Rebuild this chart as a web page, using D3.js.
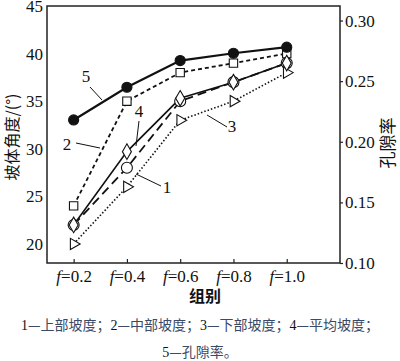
<!DOCTYPE html>
<html>
<head>
<meta charset="utf-8">
<script src="https://cdn.jsdelivr.net/npm/d3@7"></script>
<style>
  body { margin: 0; background: #fff; }
  svg text { font-family: "Liberation Serif", "Noto Sans CJK SC", serif; }
  .cjk { font-family: "Noto Sans CJK SC", sans-serif; }
</style>
</head>
<body>
<div id="chart"></div>
<script>
// groups (f values)
var groups = [0.2, 0.4, 0.6, 0.8, 1.0];
// slope angles (deg), left axis
var upperSlope = [22, 28, 35, 37, 39];      // 1
var middleSlope = [24, 35, 38, 39, 40];     // 2
var lowerSlope = [20, 26, 33, 35, 38];      // 3
var meanSlope = [22, 29.7, 35.3, 37, 39];   // 4
// porosity, right axis
var porosity = [0.218, 0.245, 0.267, 0.273, 0.278]; // 5
var leftTicks = [20, 25, 30, 35, 40, 45];
var rightTicks = [0.10, 0.15, 0.20, 0.25, 0.30];

var width = 400, height = 361;
var margin = { top: 6, right: 60, bottom: 98, left: 47 };
var w = width - margin.left - margin.right;
var h = height - margin.top - margin.bottom;

var svg = d3.select('#chart').append('svg')
    .attr('width', width)
    .attr('height', height);
var g = svg.append('g')
    .attr('transform', 'translate(' + margin.left + ',' + margin.top + ')');

var x = d3.scaleLinear().domain([0.1, 1.2]).range([0, w]);
var yL = d3.scaleLinear().domain([18, 45]).range([h, 0]);
var yR = d3.scaleLinear().domain([0.10, 0.312]).range([h, 0]);

// frame
g.append('rect')
    .attr('width', w).attr('height', h)
    .attr('fill', 'none').attr('stroke', '#222').attr('stroke-width', 1.5);

// left axis
var leftAxis = g.append('g')
    .call(d3.axisLeft(yL).tickValues(leftTicks).tickSize(0).tickPadding(4));
leftAxis.select('.domain').remove();
leftAxis.selectAll('text').attr('font-size', '17px').attr('fill', '#111')
    .attr('font-family', 'Liberation Serif');

// right axis
var rightAxis = g.append('g')
    .attr('transform', 'translate(' + w + ',0)')
    .call(d3.axisRight(yR).tickValues(rightTicks).tickSize(3).tickPadding(2)
        .tickFormat(d3.format('.2f')));
rightAxis.select('.domain').remove();
rightAxis.selectAll('line').attr('stroke', '#222').attr('stroke-width', 1.2);
rightAxis.selectAll('text').attr('font-size', '17px').attr('fill', '#111')
    .attr('font-family', 'Liberation Serif');

// bottom axis, ticks point inward
var bottomAxis = g.append('g')
    .attr('transform', 'translate(0,' + h + ')')
    .call(d3.axisBottom(x).tickValues(groups).tickSize(-4).tickFormat(''));
bottomAxis.select('.domain').remove();
bottomAxis.selectAll('line').attr('stroke', '#222').attr('stroke-width', 1.2);
bottomAxis.selectAll('.tick').append('text')
    .attr('y', 19)
    .attr('text-anchor', 'middle')
    .attr('font-size', '17px')
    .attr('fill', '#111')
    .each(function (d) {
        var t = d3.select(this);
        t.append('tspan').attr('font-style', 'italic').text('f');
        t.append('tspan').text('=' + d.toFixed(1));
    });

// axis titles
g.append('text')
    .attr('class', 'cjk')
    .attr('transform', 'translate(' + (12 - margin.left) + ',' + 131 + ') rotate(-90)')
    .attr('text-anchor', 'middle')
    .attr('dy', '0.35em')
    .attr('font-size', '16px')
    .attr('fill', '#111')
    .text('坡体角度/(°)');
g.append('text')
    .attr('class', 'cjk')
    .attr('transform', 'translate(' + (w + 48) + ',' + 137 + ') rotate(-90)')
    .attr('text-anchor', 'middle')
    .attr('dy', '0.35em')
    .attr('font-size', '17px')
    .attr('fill', '#111')
    .text('孔隙率');
g.append('text')
    .attr('class', 'cjk')
    .attr('x', 205 - margin.left)
    .attr('y', 302 - margin.top)
    .attr('text-anchor', 'middle')
    .attr('font-size', '16px')
    .attr('font-weight', 'bold')
    .attr('fill', '#111')
    .text('组别');

// series
var series = [
    { values: upperSlope, y: yL, dash: '9,5', width: 1.8, marker: 'circle' },
    { values: middleSlope, y: yL, dash: '4,3', width: 1.8, marker: 'square' },
    { values: lowerSlope, y: yL, dash: '1.5,2', width: 1.6, marker: 'triangle' },
    { values: meanSlope, y: yL, dash: null, width: 1.6, marker: 'diamond' },
    { values: porosity, y: yR, dash: null, width: 2.2, marker: 'dot' }
];

var symbolFor = {
    circle: d3.symbol().type(d3.symbolCircle).size(95),
    square: d3.symbol().type(d3.symbolSquare).size(70),
    diamond: d3.symbol().type(d3.symbolDiamond).size(70),
    dot: d3.symbol().type(d3.symbolCircle).size(80)
};

series.forEach(function (s) {
    var pts = groups.map(function (f, i) { return [x(f), s.y(s.values[i])]; });
    g.append('path')
        .attr('d', d3.line()(pts))
        .attr('fill', 'none')
        .attr('stroke', '#111')
        .attr('stroke-width', s.width)
        .attr('stroke-dasharray', s.dash);
});

series.forEach(function (s) {
    var pts = groups.map(function (f, i) { return [x(f), s.y(s.values[i])]; });
    var m = g.selectAll(null).data(pts).enter().append('path')
        .attr('transform', function (p) {
            return 'translate(' + p[0] + ',' + p[1] + ')' + (s.marker === 'triangle' ? ' rotate(90)' : '');
        })
        .attr('stroke', '#111')
        .attr('stroke-width', 1.1);
    if (s.marker === 'triangle') {
        m.attr('d', d3.symbol().type(d3.symbolTriangle).size(55)()).attr('fill', '#fff');
    } else {
        m.attr('d', symbolFor[s.marker]())
            .attr('fill', s.marker === 'dot' ? '#111' : '#fff');
    }
});

// leader labels (pixel positions in the plot)
var labels = [
    { t: '5', tx: 86, ty: 82, line: [90, 87, 102, 100] },
    { t: '2', tx: 67, ty: 150, line: [76, 143, 100, 148] },
    { t: '4', tx: 139, ty: 117, line: [139, 121, 136, 146] },
    { t: '1', tx: 167, ty: 193, line: [136, 174, 161, 186] },
    { t: '3', tx: 232, ty: 132, line: [207, 115, 227, 127] }
];
labels.forEach(function (l) {
    svg.append('line')
        .attr('x1', l.line[0]).attr('y1', l.line[1])
        .attr('x2', l.line[2]).attr('y2', l.line[3])
        .attr('stroke', '#111').attr('stroke-width', 1);
    svg.append('text')
        .attr('x', l.tx).attr('y', l.ty)
        .attr('text-anchor', 'middle')
        .attr('font-size', '17px')
        .attr('fill', '#111')
        .text(l.t);
});

// caption
var caption = [
    [['1', '—上部坡度；'], ['2', '—中部坡度；'], ['3', '—下部坡度；'], ['4', '—平均坡度；']],
    [['5', '—孔隙率。']]
];
caption.forEach(function (line, li) {
    var t = svg.append('text')
        .attr('x', 200)
        .attr('y', 330 + li * 27)
        .attr('text-anchor', 'middle')
        .attr('font-size', '14px');
    line.forEach(function (p) {
        t.append('tspan').attr('font-family', 'Liberation Serif').attr('fill', '#111').text(p[0]);
        t.append('tspan').attr('class', 'cjk').attr('fill', '#3b4a66').text(p[1]);
    });
});
</script>
</body>
</html>
